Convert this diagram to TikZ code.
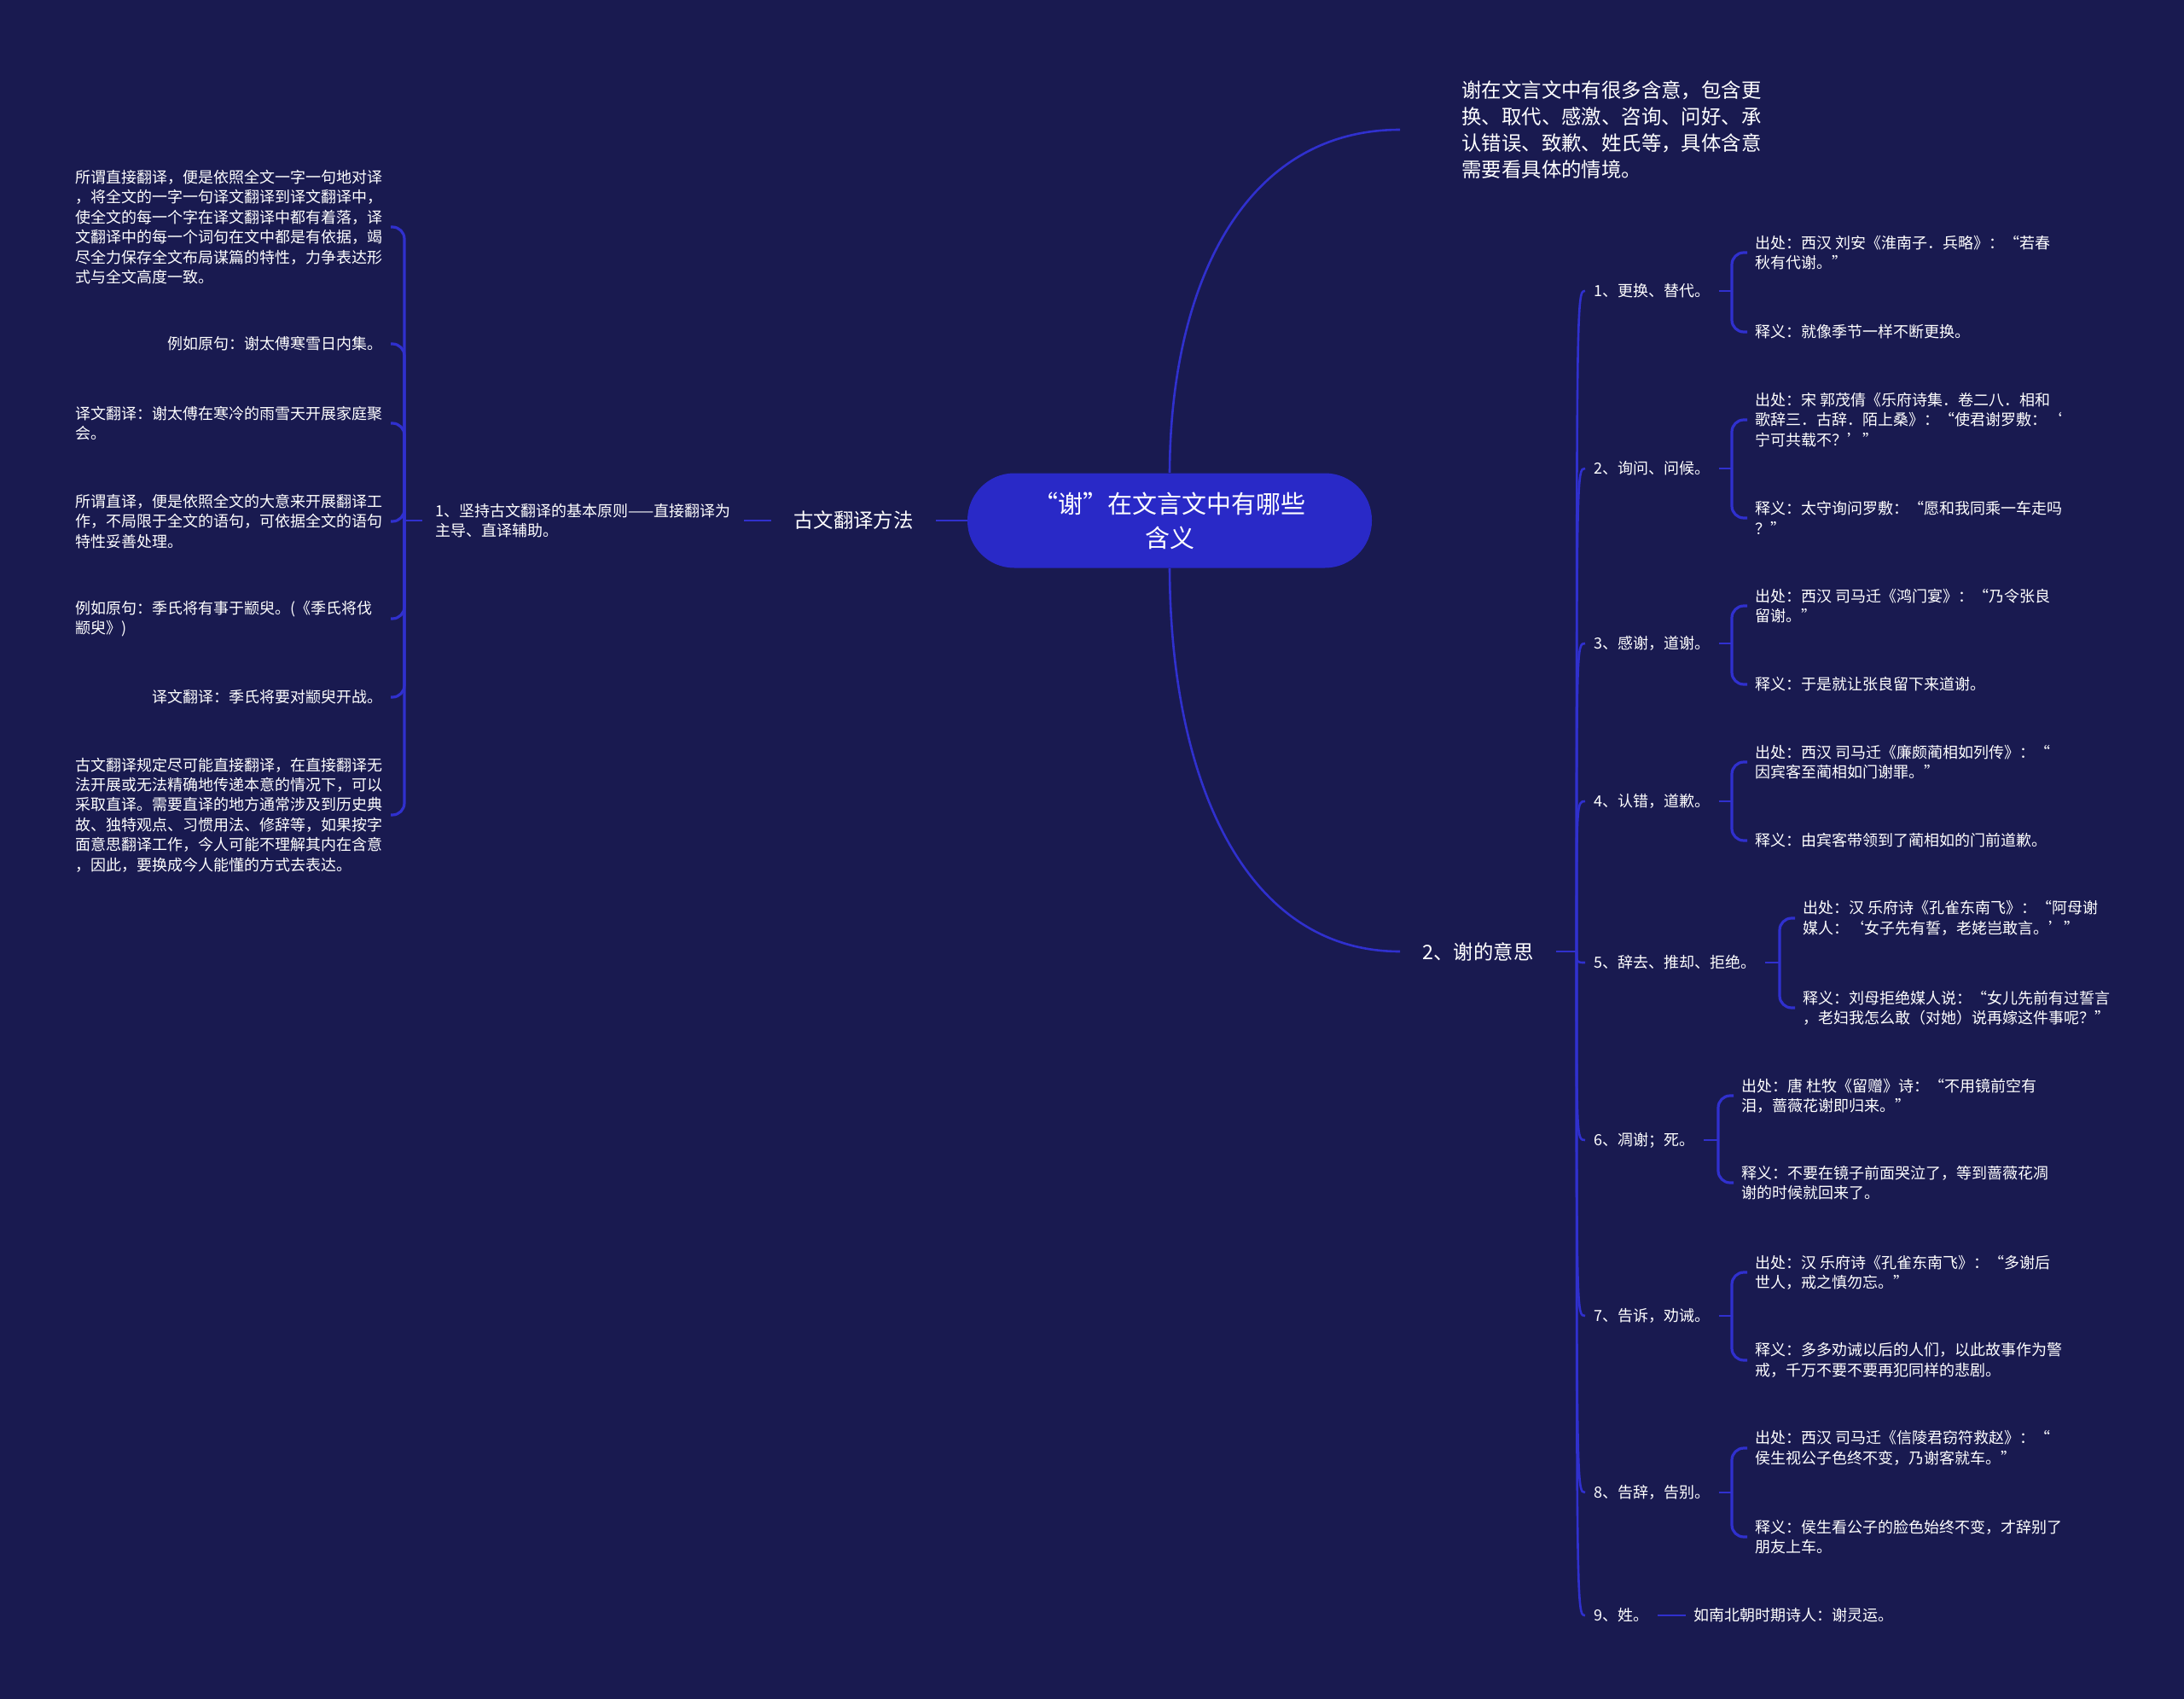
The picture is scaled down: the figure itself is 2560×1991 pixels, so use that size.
\documentclass[tikz,border=0pt]{standalone}
\usepackage{fontspec}
\setmainfont{Noto Sans CJK SC}
\definecolor{bgnavy}{RGB}{25,26,80}
\definecolor{rootblue}{RGB}{41,41,199}
\definecolor{linkblue}{RGB}{48,48,206}
\tikzset{
  link/.style={draw=linkblue, line width=1.3pt},
  fork/.style={draw=linkblue, line width=1.6pt, rounded corners=7pt},
  leaf/.style={text=white, font=\fontsize{9}{11.7}\selectfont, align=left, inner xsep=4.5pt, inner ysep=2pt},
  item/.style={leaf, inner xsep=5pt},
  topic/.style={text=white, font=\fontsize{11.7}{15.5}\selectfont, align=left, inner xsep=13pt, inner ysep=3pt},
  rootnode/.style={fill=rootblue, text=white, rounded corners=27.5pt, minimum width=237pt,
    minimum height=55.5pt, align=center, font=\fontsize{14.5}{20}\selectfont}
}
\begin{document}
\begin{tikzpicture}[x=0.5pt, y=-0.5pt]
\useasboundingbox (0,0) rectangle (2560,1991);
\fill[bgnavy] (0,0) rectangle (2560,1991);

% centre
\node[rootnode] (root) at (1371,610) {“谢”在文言文中有哪些\\含义};

% right: intro and meanings
\node[topic, anchor=west, inner xsep=36pt] (intro) at (1641,152)
  {谢在文言文中有很多含意，包含更\\换、取代、感激、咨询、问好、承\\认错误、致歉、姓氏等，具体含意\\需要看具体的情境。};
\node[topic, anchor=west] (m2) at (1641,1115) {2、谢的意思};
\coordinate (m2j) at (1848,1115);

\draw[link] (root.north) .. controls (1372,330) and (1460,152) .. (intro.west);
\draw[link] (root.south) .. controls (1372,917) and (1460,1115) .. (m2.west);
\draw[link] (m2.east) -- (m2j);

\node[item, anchor=west] (c1) at (1858,341) {1、更换、替代。};
\node[item, anchor=west] (c2) at (1858,549) {2、询问、问候。};
\node[item, anchor=west] (c3) at (1858,754) {3、感谢，道谢。};
\node[item, anchor=west] (c4) at (1858,939) {4、认错，道歉。};
\node[item, anchor=west] (c5) at (1858,1128) {5、辞去、推却、拒绝。};
\node[item, anchor=west] (c6) at (1858,1336) {6、凋谢；死。};
\node[item, anchor=west] (c7) at (1858,1542) {7、告诉，劝诫。};
\node[item, anchor=west] (c8) at (1858,1749) {8、告辞，告别。};
\node[item, anchor=west] (c9) at (1858,1893) {9、姓。};

\foreach \c in {c1,c2,c3,c4,c5,c6,c7,c8,c9}
  \draw[link] (m2j) .. controls (m2j |- \c.west) .. (\c.west);

% sources and meanings
\node[leaf, anchor=west] (c1a) at (2048,296) {出处：西汉 刘安《淮南子．兵略》：“若春\\秋有代谢。”};
\node[leaf, anchor=west] (c1b) at (2048,389) {释义：就像季节一样不断更换。};
\node[leaf, anchor=west] (c2a) at (2048,492) {出处：宋 郭茂倩《乐府诗集．卷二八．相和\\歌辞三．古辞．陌上桑》：“使君谢罗敷：‘\\宁可共载不？’”};
\node[leaf, anchor=west] (c2b) at (2048,607) {释义：太守询问罗敷：“愿和我同乘一车走吗\\？”};
\node[leaf, anchor=west] (c3a) at (2048,710) {出处：西汉 司马迁《鸿门宴》：“乃令张良\\留谢。”};
\node[leaf, anchor=west] (c3b) at (2048,802) {释义：于是就让张良留下来道谢。};
\node[leaf, anchor=west] (c4a) at (2048,893) {出处：西汉 司马迁《廉颇蔺相如列传》：“\\因宾客至蔺相如门谢罪。”};
\node[leaf, anchor=west] (c4b) at (2048,985) {释义：由宾客带领到了蔺相如的门前道歉。};
\node[leaf, anchor=west] (c5a) at (2104,1076) {出处：汉 乐府诗《孔雀东南飞》：“阿母谢\\媒人：‘女子先有誓，老姥岂敢言。’”};
\node[leaf, anchor=west] (c5b) at (2104,1181) {释义：刘母拒绝媒人说：“女儿先前有过誓言\\，老妇我怎么敢（对她）说再嫁这件事呢？”};
\node[leaf, anchor=west] (c6a) at (2032,1284) {出处：唐 杜牧《留赠》诗：“不用镜前空有\\泪，蔷薇花谢即归来。”};
\node[leaf, anchor=west] (c6b) at (2032,1386) {释义：不要在镜子前面哭泣了，等到蔷薇花凋\\谢的时候就回来了。};
\node[leaf, anchor=west] (c7a) at (2048,1491) {出处：汉 乐府诗《孔雀东南飞》：“多谢后\\世人，戒之慎勿忘。”};
\node[leaf, anchor=west] (c7b) at (2048,1594) {释义：多多劝诫以后的人们，以此故事作为警\\戒，千万不要不要再犯同样的悲剧。};
\node[leaf, anchor=west] (c8a) at (2048,1697) {出处：西汉 司马迁《信陵君窃符救赵》：“\\侯生视公子色终不变，乃谢客就车。”};
\node[leaf, anchor=west] (c8b) at (2048,1801) {释义：侯生看公子的脸色始终不变，才辞别了\\朋友上车。};
\node[leaf, anchor=west] (c9a) at (1976,1893) {如南北朝时期诗人：谢灵运。};

\coordinate (j1) at (2030,341);
\coordinate (j2) at (2030,549);
\coordinate (j3) at (2030,754);
\coordinate (j4) at (2030,939);
\coordinate (j5) at (2086,1128);
\coordinate (j6) at (2014,1336);
\coordinate (j7) at (2030,1542);
\coordinate (j8) at (2030,1749);

\foreach \n in {1,...,8} {
  \draw[link] (c\n.east) -- (j\n);
  \draw[fork] (j\n) |- (c\n a.west);
  \draw[fork] (j\n) |- (c\n b.west);
}
\draw[link] (c9.east) -- (c9a.west);

% left: translation method
\node[topic, anchor=east] (m1) at (1097,610) {古文翻译方法};
\node[leaf, anchor=east, inner xsep=7.5pt] (p1) at (872,610) {1、坚持古文翻译的基本原则——直接翻译为\\主导、直译辅助。};
\coordinate (jl) at (474,610);
\draw[link] (root.west) -- (m1.east);
\draw[link] (m1.west) -- (p1.east);
\draw[link] (p1.west) -- (jl);

\node[leaf, anchor=east] (g1) at (458,266) {所谓直接翻译，便是依照全文一字一句地对译\\，将全文的一字一句译文翻译到译文翻译中，\\使全文的每一个字在译文翻译中都有着落，译\\文翻译中的每一个词句在文中都是有依据，竭\\尽全力保存全文布局谋篇的特性，力争表达形\\式与全文高度一致。};
\node[leaf, anchor=east] (g2) at (458,403) {例如原句：谢太傅寒雪日内集。};
\node[leaf, anchor=east] (g3) at (458,496) {译文翻译：谢太傅在寒冷的雨雪天开展家庭聚\\会。};
\node[leaf, anchor=east] (g4) at (458,611) {所谓直译，便是依照全文的大意来开展翻译工\\作，不局限于全文的语句，可依据全文的语句\\特性妥善处理。};
\node[leaf, anchor=east, text width=180pt] (g5) at (458,725) {例如原句：季氏将有事于颛臾。(《季氏将伐\\颛臾》)};
\node[leaf, anchor=east] (g6) at (458,817) {译文翻译：季氏将要对颛臾开战。};
\node[leaf, anchor=east] (g7) at (458,955) {古文翻译规定尽可能直接翻译，在直接翻译无\\法开展或无法精确地传递本意的情况下，可以\\采取直译。需要直译的地方通常涉及到历史典\\故、独特观点、习惯用法、修辞等，如果按字\\面意思翻译工作，今人可能不理解其内在含意\\，因此，要换成今人能懂的方式去表达。};

\foreach \g in {g1,g2,g3,g4,g5,g6,g7}
  \draw[fork] (jl) |- (\g.east);
\end{tikzpicture}
\end{document}
